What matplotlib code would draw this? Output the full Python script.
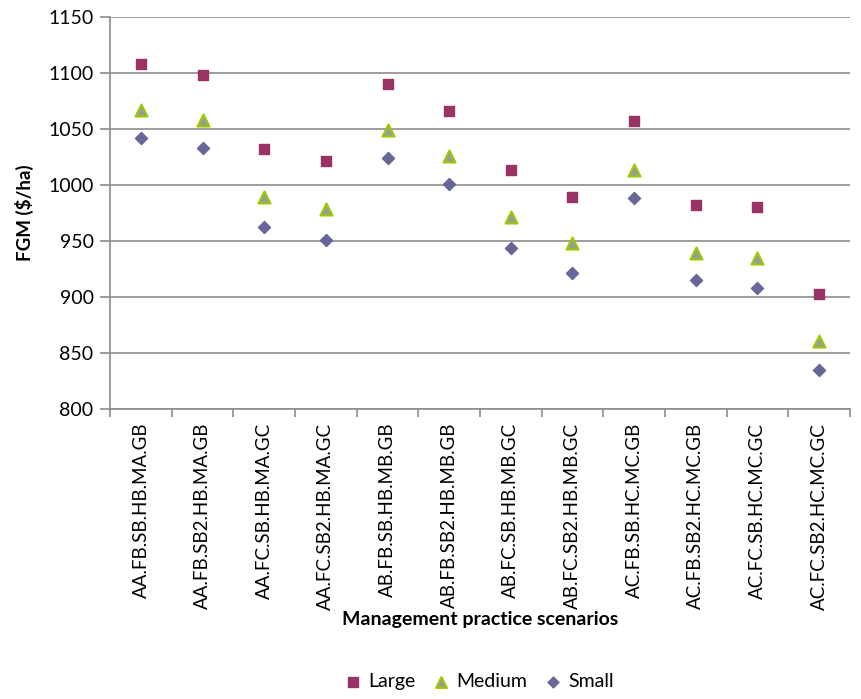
import numpy as np
import matplotlib
matplotlib.use('Agg')
import matplotlib.pyplot as plt

plt.rcParams['font.family'] = ['Lato', 'DejaVu Sans']

scenarios = ['AA.FB.SB.HB.MA.GB', 'AA.FB.SB2.HB.MA.GB', 'AA.FC.SB.HB.MA.GC',
             'AA.FC.SB2.HB.MA.GC', 'AB.FB.SB.HB.MB.GB', 'AB.FB.SB2.HB.MB.GB',
             'AB.FC.SB.HB.MB.GC', 'AB.FC.SB2.HB.MB.GC', 'AC.FB.SB.HC.MC.GB',
             'AC.FB.SB2.HC.MC.GB', 'AC.FC.SB.HC.MC.GC', 'AC.FC.SB2.HC.MC.GC']
large = [1108, 1098, 1032, 1021, 1090, 1066, 1013, 989, 1057, 982, 980, 903]
medium = [1067, 1058, 989, 978, 1049, 1026, 971, 948, 1013, 939, 935, 861]
small = [1042, 1033, 962, 951, 1024, 1001, 944, 921, 988, 915, 908, 835]

fig = plt.figure(figsize=(8.61, 6.99), dpi=100)
ax = fig.add_axes([0.128, 0.415, 0.859, 0.561])

x = np.arange(len(scenarios))
ax.scatter(x, large, marker='s', s=55, color='#993366', label='Large', zorder=3)
ax.scatter(x, medium, marker='^', s=75, color='#9a9a9a', edgecolor='#99cc00',
           linewidth=1.5, label='Medium', zorder=3)
ax.scatter(x, small, marker='D', s=38, color='#666699', label='Small', zorder=3)

ax.set_xlim(-0.5, len(scenarios) - 0.5)
ax.set_ylim(800, 1150)
ax.set_yticks(np.arange(800, 1151, 50))
ax.yaxis.grid(True, color='#8c8c8c', linewidth=1.2)
ax.set_axisbelow(True)

ax.set_xticks(x)
ax.set_xticklabels(scenarios, rotation=90, fontsize=13.5)
ax.set_xticks(np.arange(-0.5, len(scenarios), 1), minor=True)
ax.tick_params(axis='x', which='major', length=0, pad=10)
ax.tick_params(axis='x', which='minor', length=6, color='#8c8c8c', width=1.2)
ax.tick_params(axis='y', length=7, color='#8c8c8c', width=1.2, labelsize=14, pad=5)

for s in ['top', 'right']:
    ax.spines[s].set_visible(False)
for s in ['left', 'bottom']:
    ax.spines[s].set_color('#8c8c8c')
    ax.spines[s].set_linewidth(1.2)

ax.set_ylabel('FGM ($/ha)', fontsize=13.5, fontweight='bold', labelpad=10)
ax.set_xlabel('Management practice scenarios', fontsize=14, fontweight='bold', labelpad=1)

fig.legend(loc='lower center', bbox_to_anchor=(0.55, -0.012), ncol=3, frameon=False,
           fontsize=14, handletextpad=-0.2, columnspacing=0.3, scatterpoints=1,
           markerscale=0.9)

fig.savefig('out.png', dpi=100)
